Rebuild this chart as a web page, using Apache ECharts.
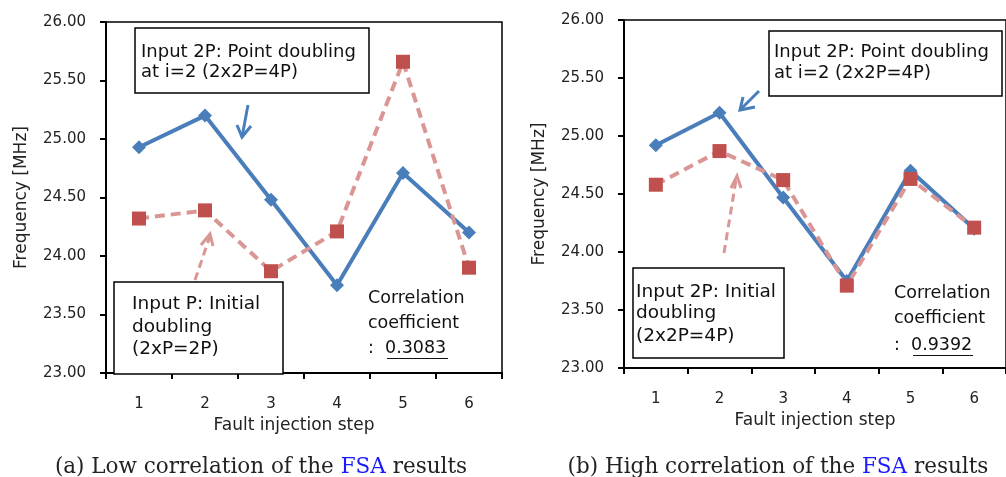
<!DOCTYPE html>
<html>
<head>
<meta charset="utf-8">
<script src="https://cdn.jsdelivr.net/npm/echarts@6/dist/echarts.min.js"></script>
<style>
  html, body { margin: 0; padding: 0; background: #fff; }
  #main { width: 1006px; height: 477px; }
</style>
</head>
<body>
<div id="main"></div>
<script>
// fault injection steps, x axis
var steps = ['1', '2', '3', '4', '5', '6'];
// (a) low correlation
var lowBlue = [24.93, 25.20, 24.48, 23.75, 24.71, 24.20];
var lowRed = [24.32, 24.39, 23.87, 24.21, 25.66, 23.90];
// (b) high correlation
var highBlue = [24.92, 25.20, 24.47, 23.75, 24.70, 24.20];
var highRed = [24.58, 24.87, 24.62, 23.71, 24.63, 24.21];
var yMin = 23, yMax = 26, yStep = 0.5;

var FONT = 'DejaVu Sans';
var BLUE = '#4a7ebb';
var RED = '#c0504d';
var PINK = '#d99694';

var chart = echarts.init(document.getElementById('main'), null, { renderer: 'canvas' });

function xAx(idx, nameShift) {
    return {
        type: 'category', gridIndex: idx, data: steps,
        boundaryGap: true,
        axisLine: { lineStyle: { color: '#000', width: 2 } },
        axisTick: { show: true, length: 6, lineStyle: { color: '#000', width: 2 } },
        axisLabel: { color: '#222', fontFamily: FONT, fontSize: 15, margin: 24 },
        name: 'Fault injection step', nameLocation: 'middle', nameGap: 44,
        nameTextStyle: { color: '#222', fontFamily: FONT, fontSize: 17, padding: [0, nameShift, 0, 0] }
    };
}
function yAx(idx) {
    return {
        type: 'value', gridIndex: idx, min: yMin, max: yMax, interval: yStep,
        axisLine: { show: true, lineStyle: { color: '#000', width: 2 } },
        axisTick: { show: true, length: 6, lineStyle: { color: '#000', width: 2 } },
        splitLine: { show: false },
        axisLabel: { color: '#222', fontFamily: FONT, fontSize: 15, margin: 20,
            formatter: function (v) { return v.toFixed(2); } },
        name: 'Frequency [MHz]', nameLocation: 'middle', nameGap: 76,
        nameTextStyle: { color: '#222', fontFamily: FONT, fontSize: 17 }
    };
}
function blueSeries(idx, data) {
    return {
        type: 'line', xAxisIndex: idx, yAxisIndex: idx, data: data,
        symbol: 'diamond', symbolSize: 14, showAllSymbol: true,
        lineStyle: { color: BLUE, width: 4 },
        itemStyle: { color: BLUE }
    };
}
function redSeries(idx, data) {
    return {
        type: 'line', xAxisIndex: idx, yAxisIndex: idx, data: data,
        symbol: 'rect', symbolSize: 14, showAllSymbol: true,
        lineStyle: { color: PINK, width: 4, type: [10, 6] },
        itemStyle: { color: RED }
    };
}

function box(x, y, w, h) {
    return { type: 'rect', z: 50, shape: { x: x, y: y, width: w, height: h },
        style: { fill: '#fff', stroke: '#000', lineWidth: 1.5 } };
}
function txt(x, y, s, size) {
    return { type: 'text', z: 60, x: x, y: y,
        style: { text: s, fill: '#111', font: (size || 18) + 'px ' + FONT, verticalAlign: 'middle' } };
}
function line(pts, color, dash) {
    return { type: 'polyline', z: 40, shape: { points: pts },
        style: { stroke: color, lineWidth: 3, fill: null, lineDash: dash || null } };
}
function underline(x1, x2, y) {
    return { type: 'line', z: 60, shape: { x1: x1, y1: y, x2: x2, y2: y },
        style: { stroke: '#111', lineWidth: 1 } };
}

var graphics = [
    // (a) upper box + arrow
    box(135, 28, 234, 65),
    txt(141, 52, 'Input 2P: Point doubling'),
    txt(141, 72, 'at i=2 (2x2P=4P)'),
    line([[248, 105], [242, 137]], BLUE),
    line([[237, 125], [242, 137], [251, 126]], BLUE),
    // (a) lower box + arrow
    box(114, 282, 169, 92),
    txt(132, 304, 'Input P: Initial', 18.5),
    txt(132, 327, 'doubling', 18.5),
    txt(132, 349, '(2xP=2P)', 18.5),
    line([[195, 280], [210, 236]], PINK, [8, 5]),
    line([[201, 245], [210, 234], [213, 246]], PINK),
    // (a) correlation
    txt(368, 298, 'Correlation', 17.5),
    txt(368, 323, 'coefficient', 17.5),
    txt(368, 348, ':  0.3083', 17.5),
    underline(387, 448, 358.5),
    // (b) upper box + arrow
    box(769, 31, 233, 65),
    txt(774, 52, 'Input 2P: Point doubling'),
    txt(774, 73, 'at i=2 (2x2P=4P)'),
    line([[759, 91], [740, 110]], BLUE),
    line([[743, 97], [740, 110], [755, 107]], BLUE),
    // (b) lower box + arrow
    box(633, 268, 151, 90),
    txt(636, 292, 'Input 2P: Initial', 18.5),
    txt(636, 313, 'doubling', 18.5),
    txt(636, 336, '(2x2P=4P)', 18.5),
    line([[724, 253], [736, 180]], PINK, [8, 5]),
    line([[731, 188], [737, 176], [741, 188]], PINK),
    // (b) correlation
    txt(894, 293, 'Correlation', 17.5),
    txt(894, 318, 'coefficient', 17.5),
    txt(894, 345, ':  0.9392', 17.5),
    underline(913, 973, 355.5)
];

chart.setOption({
    animation: false,
    backgroundColor: '#fff',
    title: [
        { text: '(a) Low correlation of the {b|FSA} results', left: 256, top: 451, textAlign: 'center',
          textStyle: { fontFamily: 'DejaVu Serif', fontSize: 21.5, fontWeight: 'normal', color: '#222',
            rich: { b: { fontFamily: 'DejaVu Serif', fontSize: 21.5, color: '#1a1aff' } } } },
        { text: '(b) High correlation of the {b|FSA} results', left: 773, top: 451, textAlign: 'center',
          textStyle: { fontFamily: 'DejaVu Serif', fontSize: 21.5, fontWeight: 'normal', color: '#222',
            rich: { b: { fontFamily: 'DejaVu Serif', fontSize: 21.5, color: '#1a1aff' } } } }
    ],
    grid: [
        { left: 106, top: 22, width: 396, height: 351, show: true, borderColor: '#000', borderWidth: 1.5 },
        { left: 624, top: 20, width: 393, height: 348, show: true, borderColor: '#000', borderWidth: 1.5 }
    ],
    xAxis: [xAx(0, 20), xAx(1, 0)],
    yAxis: [yAx(0), yAx(1)],
    series: [
        blueSeries(0, lowBlue), redSeries(0, lowRed),
        blueSeries(1, highBlue), redSeries(1, highRed)
    ],
    graphic: graphics
});
</script>
</body>
</html>
